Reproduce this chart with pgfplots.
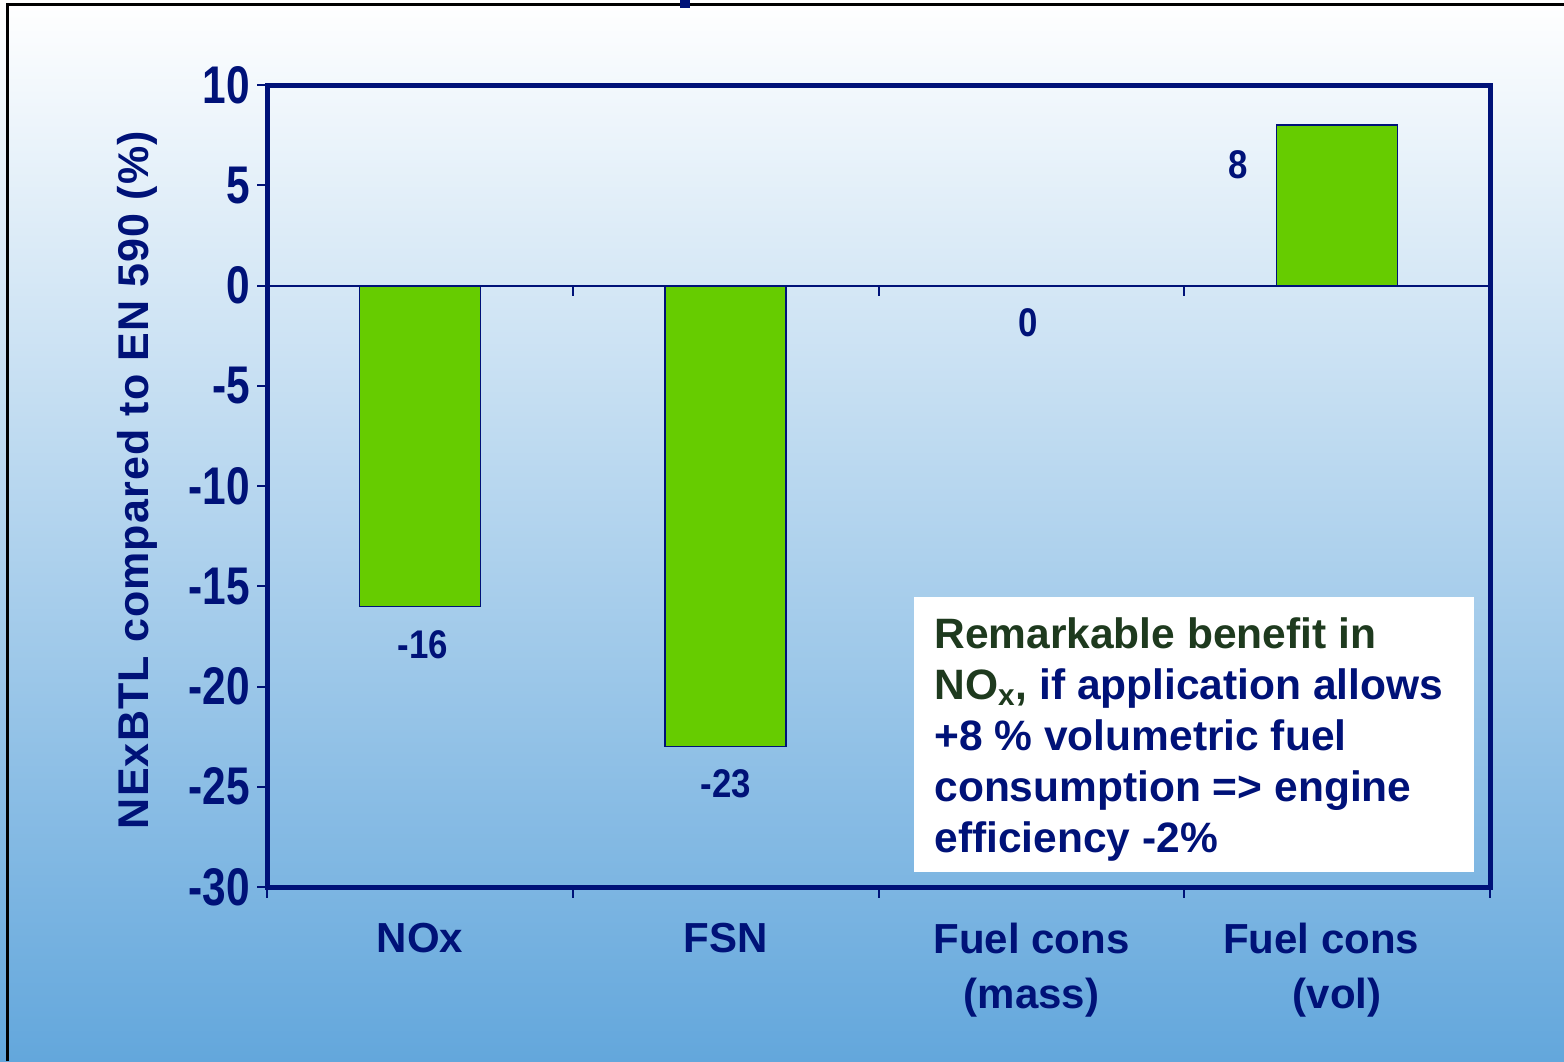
\documentclass[border=0pt]{standalone}
\usepackage{pgfplots}
\pgfplotsset{compat=1.18}
\usepackage{fontspec}
\setmainfont{Liberation Sans}
\newfontfamily\narrowA[FakeStretch=0.8]{Liberation Sans}
\newfontfamily\narrowB[FakeStretch=0.87]{Liberation Sans}
\newfontfamily\ylabfont[LetterSpace=2.7]{Liberation Sans}
\definecolor{navy}{RGB}{0,18,120}
\definecolor{barg}{RGB}{102,204,0}
\definecolor{dkgreen}{RGB}{30,58,30}
\definecolor{bgbot}{RGB}{99,167,220}
\begin{document}
\begin{tikzpicture}
\useasboundingbox (0pt,0pt) rectangle (782pt,530.5pt);
\shade[top color=white, bottom color=bgbot] (0pt,0pt) rectangle (782pt,530.5pt);
\draw[black, line width=1.5pt] (3.5pt,0pt) -- (3.5pt,528pt) -- (782pt,528pt);
\fill[navy] (340pt,526.5pt) rectangle (345pt,530.5pt);
\begin{axis}[
  at={(133.5pt,87pt)}, anchor=south west,
  scale only axis, width=611.5pt, height=401pt,
  xmin=0.5, xmax=4.5, ymin=-30, ymax=10,
  clip=false,
  ybar, bar width=60.5pt,
  axis line style={navy, line width=2.5pt},
  xtick={1,2,3,4},
  xticklabels={NOx, FSN, {Fuel cons\\(mass)}, {\hspace*{-16pt}Fuel cons\\(vol)}},
  xtick style={draw=none},
  ytick={-30,-25,-20,-15,-10,-5,0,5,10},
  yticklabels={-30,-25,-20,-15,-10,-5,0,5,10},
  ytick pos=left,
  tick align=outside, major tick length=5pt,
  ytick style={navy, line width=1pt},
  xticklabel style={font=\fontsize{21}{27.5}\selectfont\bfseries, text=navy, align=center, yshift=-9.5pt},
  yticklabel style={font=\narrowA\fontsize{26.5}{27}\selectfont\bfseries, text=navy},
]
\addplot[ybar, fill=barg, draw=navy, line width=0.8pt] coordinates {(1,-16) (2,-23) (3,0) (4,8)};
\draw[navy, line width=1pt] (axis cs:0.5,0) -- (axis cs:4.5,0);
\pgfplotsinvokeforeach{1.5,2.5,3.5}{
  \draw[navy, line width=1pt] (axis cs:#1,0) -- ++(0pt,-5pt);
}
\pgfplotsinvokeforeach{0.5,1.5,2.5,3.5,4.5}{
  \draw[navy, line width=1pt] (axis cs:#1,-30) -- ++(0pt,-5.5pt);
}
\node[font=\narrowB\fontsize{20}{24}\selectfont\bfseries, text=navy] at (axis cs:1.01,-17.9) {-16};
\node[font=\narrowB\fontsize{20}{24}\selectfont\bfseries, text=navy] at (axis cs:2,-24.85) {-23};
\node[font=\narrowB\fontsize{20}{24}\selectfont\bfseries, text=navy] at (axis cs:2.99,-1.85) {0};
\node[font=\narrowB\fontsize{20}{24}\selectfont\bfseries, text=navy] at (axis cs:3.676,6.0) {8};
\end{axis}
\node[rotate=90, font=\ylabfont\fontsize{21.5}{24}\selectfont\bfseries, text=navy] at (68.5pt,290.5pt) {NExBTL compared to EN 590 (\%)};
\fill[white] (457pt,94.5pt) rectangle (737pt,232pt);
\node[anchor=north west, inner sep=0pt, align=left, text=navy, font=\fontsize{21.25}{25.5}\selectfont\bfseries] at (467pt,222pt)
  {\textcolor{dkgreen}{Remarkable benefit in}\\\textcolor{dkgreen}{NO\textsubscript{x},} if application allows\\+8 \% volumetric fuel\\consumption => engine\\efficiency -2\%};
\end{tikzpicture}
\end{document}
